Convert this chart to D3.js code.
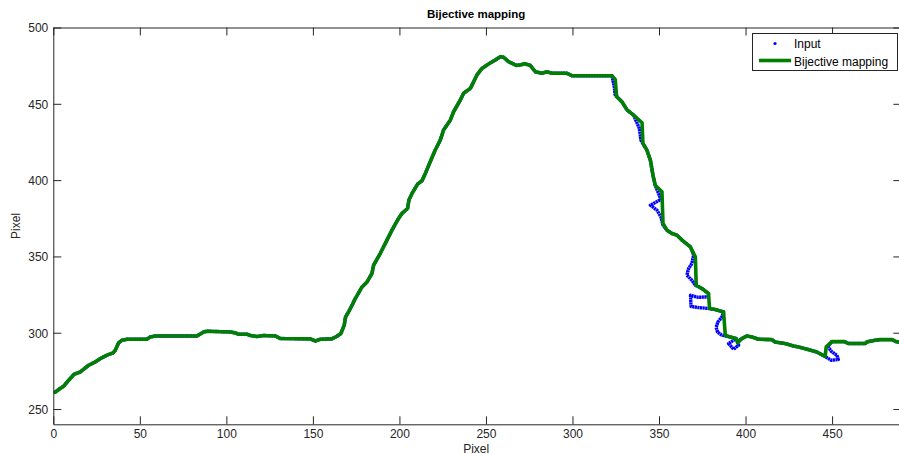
<!DOCTYPE html>
<html>
<head>
<meta charset="utf-8">
<script src="https://cdn.jsdelivr.net/npm/d3@7"></script>
<style>
  html, body { margin: 0; padding: 0; background: #fff; }
  svg { display: block; font-family: "Liberation Sans", Arial, Helvetica, sans-serif; }
</style>
</head>
<body>
<svg id="chart" width="899" height="454"></svg>
<script>
// ---- data ----
const title = "Bijective mapping";
const xLabel = "Pixel";
const yLabel = "Pixel";
const seriesNames = ["Input", "Bijective mapping"];
const xTicks = [0, 50, 100, 150, 200, 250, 300, 350, 400, 450];
const yTicks = [250, 300, 350, 400, 450, 500];

// Bijective mapping (green line)
const mappingPts = [
  [1,261],[4,263.5],[6,265],[8,267.7],[12,272.8],[15.6,274.3],[20.4,278.7],[24.3,280.9],
  [27.2,283.1],[31,285.3],[34.5,286.8],[35.8,288.5],[37.7,293.3],[39.7,295.1],[42.6,295.7],
  [54,295.7],[56,297.2],[59,297.9],[83,297.9],[86.9,300.5],[88.8,301],[102.3,300.5],
  [105.2,299.9],[107.1,299],[112,299],[113.8,298.2],[117.7,297.5],[121.5,298.2],[128.3,297.9],
  [131.2,296.2],[148.5,296],[151.4,294.6],[154.3,295.7],[161,296],[163.9,297.7],[166.2,299.5],
  [168.1,305],[168.9,310.4],[170.6,313.6],[172.6,318],[174.5,322.4],[178.4,330],[181.3,333.3],
  [184.1,338.8],[185.1,344.3],[188.9,351.9],[192.8,360.7],[195.7,367.2],[199.5,374.9],
  [201.5,378.2],[204.7,381.4],[205.5,386.9],[207.3,391.3],[210.5,397.4],[213,399.5],
  [215,404.4],[217.8,412],[220.7,419.7],[223.6,426.2],[225.5,432.8],[229.4,439.3],
  [231.3,444.8],[235.2,452.5],[237.1,456.9],[241,460.1],[242.9,464.5],[244.8,468.9],
  [247.7,473.2],[251.5,476.1],[255.4,478.7],[258.3,480.9],[260.2,480.5],[263.1,477.6],
  [267.5,475.2],[269.8,475.4],[272.2,476.3],[275.6,475.2],[278.5,471],[282.4,470],
  [285.2,471],[288.1,470],[296.8,470],[299.7,468.4],[322.8,468.4],[324.7,466],[325.5,454.6],
  [328.6,451.3],[331.5,446],[335.3,442.6],[340.2,437.6],[340.7,424.1],[343,419.7],
  [345,413.1],[346.5,403.3],[347.8,396.7],[351.7,392.3],[352.3,371.6],[354.6,367.2],
  [357.5,365],[360.4,363.9],[363.3,360.7],[368.1,356.3],[371,349.7],[371.5,331.1],
  [374.8,329],[378.6,325.7],[379.2,315.9],[382.5,315.2],[387.3,313.6],[388.3,298.3],
  [391.1,297.2],[394.6,296.2],[395.4,293.3],[397.9,296.2],[400.8,297.9],[403.7,297.2],
  [407.5,295.7],[415.2,295.5],[417.1,293.9],[422.9,292.9],[427.7,291.3],[430.6,290.7],
  [435.5,289.2],[441.2,287.4],[446,284.4],[446.6,290.7],[449.9,294.2],[457,294.2],
  [459.5,292.9],[469.2,292.9],[470.2,294],[475,295.1],[477.8,295.5],[484.6,295.5],
  [487.4,294],[490,294]
];

// Input (blue dots)
const inputPts = [
  [1,261],[4,263.5],[6,265],[8,267.7],[12,272.8],[15.6,274.3],[20.4,278.7],[24.3,280.9],
  [27.2,283.1],[31,285.3],[34.5,286.8],[35.8,288.5],[37.7,293.3],[39.7,295.1],[42.6,295.7],
  [54,295.7],[56,297.2],[59,297.9],[83,297.9],[86.9,300.5],[88.8,301],[102.3,300.5],
  [105.2,299.9],[107.1,299],[112,299],[113.8,298.2],[117.7,297.5],[121.5,298.2],[128.3,297.9],
  [131.2,296.2],[148.5,296],[151.4,294.6],[154.3,295.7],[161,296],[163.9,297.7],[166.2,299.5],
  [168.1,305],[168.9,310.4],[170.6,313.6],[172.6,318],[174.5,322.4],[178.4,330],[181.3,333.3],
  [184.1,338.8],[185.1,344.3],[188.9,351.9],[192.8,360.7],[195.7,367.2],[199.5,374.9],
  [201.5,378.2],[204.7,381.4],[205.5,386.9],[207.3,391.3],[210.5,397.4],[213,399.5],
  [215,404.4],[217.8,412],[220.7,419.7],[223.6,426.2],[225.5,432.8],[229.4,439.3],
  [231.3,444.8],[235.2,452.5],[237.1,456.9],[241,460.1],[242.9,464.5],[244.8,468.9],
  [247.7,473.2],[251.5,476.1],[255.4,478.7],[258.3,480.9],[260.2,480.5],[263.1,477.6],
  [267.5,475.2],[269.8,475.4],[272.2,476.3],[275.6,475.2],[278.5,471],[282.4,470],
  [285.2,471],[288.1,470],[296.8,470],[299.7,468.4],[322.8,468.4],[324.2,461],[324.6,456],
  [328.6,451.3],[331.5,446],[335.3,442.6],[338.6,434],[339.6,426],[343,419.7],
  [345,413.1],[346.5,403.3],[347.8,396.7],[351.1,387.3],[345,383.6],[348.8,380.3],
  [351.1,375.9],[352.3,370.5],[354.6,367.2],[357.5,365],[360.4,363.9],[363.3,360.7],
  [368.1,356.3],[370,351],[369,345.4],[367.1,342.1],[366.1,337.7],[369,334.4],[371,331.1],
  [374.8,329],[378.6,325.7],[378.4,323.5],[372.6,323.2],[368.2,324.5],[368.5,317.2],
  [372.6,316.5],[378.8,315.9],[382.5,315.2],[387.3,313.6],[386.4,310.4],[384,307],
  [383,303.5],[383.8,300.5],[386,298.6],[389,297.7],[391.1,297.2],[394.6,296.2],
  [390.2,292.9],[393.1,289.2],[396,291.8],[395.4,294.5],[397.9,296.2],[400.8,297.9],
  [403.7,297.2],[407.5,295.7],[415.2,295.5],[417.1,293.9],[422.9,292.9],[427.7,291.3],
  [430.6,290.7],[435.5,289.2],[441.2,287.4],[446,284.4],[449.5,282],[453.6,282.4],
  [452.8,285.2],[449.4,288],[447.6,291],[449.9,294.2],[457,294.2],[459.5,292.9],
  [469.2,292.9],[470.2,294],[475,295.1],[477.8,295.5],[484.6,295.5],[487.4,294],[490,294]
];

(function () {
  const svg = d3.select("#chart");
  const pLeft = 53.3, pRight = 901.3, pTop = 27.5, pBottom = 424.3;
  const x = d3.scaleLinear().domain([0, 490]).range([pLeft, pRight]);
  const y = d3.scaleLinear().domain([240, 500]).range([pBottom, pTop]);
  const axisColor = "#262626";

  svg.append("clipPath").attr("id", "clip")
    .append("rect").attr("x", pLeft).attr("y", pTop)
    .attr("width", pRight - pLeft).attr("height", pBottom - pTop);

  const line = d3.line().x(d => x(d[0])).y(d => y(d[1]));

  const plot = svg.append("g").attr("clip-path", "url(#clip)");
  plot.append("path").datum(inputPts).attr("d", line)
    .attr("fill", "none").attr("stroke", "#0000ff").attr("stroke-width", 3.4)
    .attr("stroke-dasharray", "2.2,0.4").attr("stroke-linejoin", "round");
  plot.append("path").datum(mappingPts).attr("d", line)
    .attr("fill", "none").attr("stroke", "#007f00").attr("stroke-width", 3.6)
    .attr("stroke-linejoin", "round").attr("stroke-linecap", "round");

  const fontSize = 12;
  const gx = svg.append("g").attr("transform", `translate(0,${pBottom})`)
    .call(d3.axisBottom(x).tickValues(xTicks).tickSizeInner(-8).tickSizeOuter(0).tickPadding(5));
  const gxTop = svg.append("g").attr("transform", `translate(0,${pTop})`)
    .call(d3.axisTop(x).tickValues(xTicks).tickSizeInner(-8).tickSizeOuter(0).tickFormat(""));
  const gy = svg.append("g").attr("transform", `translate(${pLeft},0)`)
    .call(d3.axisLeft(y).tickValues(yTicks).tickSizeInner(-8).tickSizeOuter(0).tickPadding(5));
  const gyRight = svg.append("g").attr("transform", `translate(${pRight},0)`)
    .call(d3.axisRight(y).tickValues(yTicks).tickSizeInner(-8).tickSizeOuter(0).tickFormat(""));

  [gx, gxTop, gy, gyRight].forEach(g => {
    g.select(".domain").attr("stroke", axisColor).attr("stroke-width", 1);
    g.selectAll(".tick line").attr("stroke", axisColor).attr("stroke-width", 1);
    g.selectAll(".tick text").attr("fill", "#262626").attr("font-size", fontSize)
      .attr("font-family", "Liberation Sans, Arial, sans-serif");
  });
  gx.selectAll(".tick text").attr("dy", "0.71em");
  gy.selectAll(".tick text").attr("dy", "0.36em");

  svg.append("text").attr("x", (pLeft + 899) / 2).attr("y", 18).attr("text-anchor", "middle")
    .attr("font-size", 11.5).attr("font-weight", "bold").attr("fill", "#000").text(title);
  svg.append("text").attr("x", (pLeft + 899) / 2).attr("y", 452.5).attr("text-anchor", "middle")
    .attr("font-size", fontSize).attr("fill", "#262626").text(xLabel);
  svg.append("text").attr("transform", `translate(20,${(pTop + pBottom) / 2}) rotate(-90)`)
    .attr("text-anchor", "middle").attr("font-size", fontSize).attr("fill", "#262626").text(yLabel);

  const lg = svg.append("g");
  lg.append("rect").attr("x", 752.5).attr("y", 33.5).attr("width", 145).attr("height", 37)
    .attr("fill", "#fff").attr("stroke", axisColor).attr("stroke-width", 1);
  lg.append("circle").attr("cx", 775).attr("cy", 43.5).attr("r", 1.6).attr("fill", "#0000ff");
  lg.append("line").attr("x1", 759).attr("x2", 791).attr("y1", 60.5).attr("y2", 60.5)
    .attr("stroke", "#007f00").attr("stroke-width", 3.6);
  lg.selectAll("text.leg").data(seriesNames).enter().append("text").attr("class", "leg")
    .attr("x", 794).attr("y", (d, i) => 48 + i * 17.5).attr("font-size", fontSize)
    .attr("fill", "#000").text(d => d);
})();
</script>
</body>
</html>
